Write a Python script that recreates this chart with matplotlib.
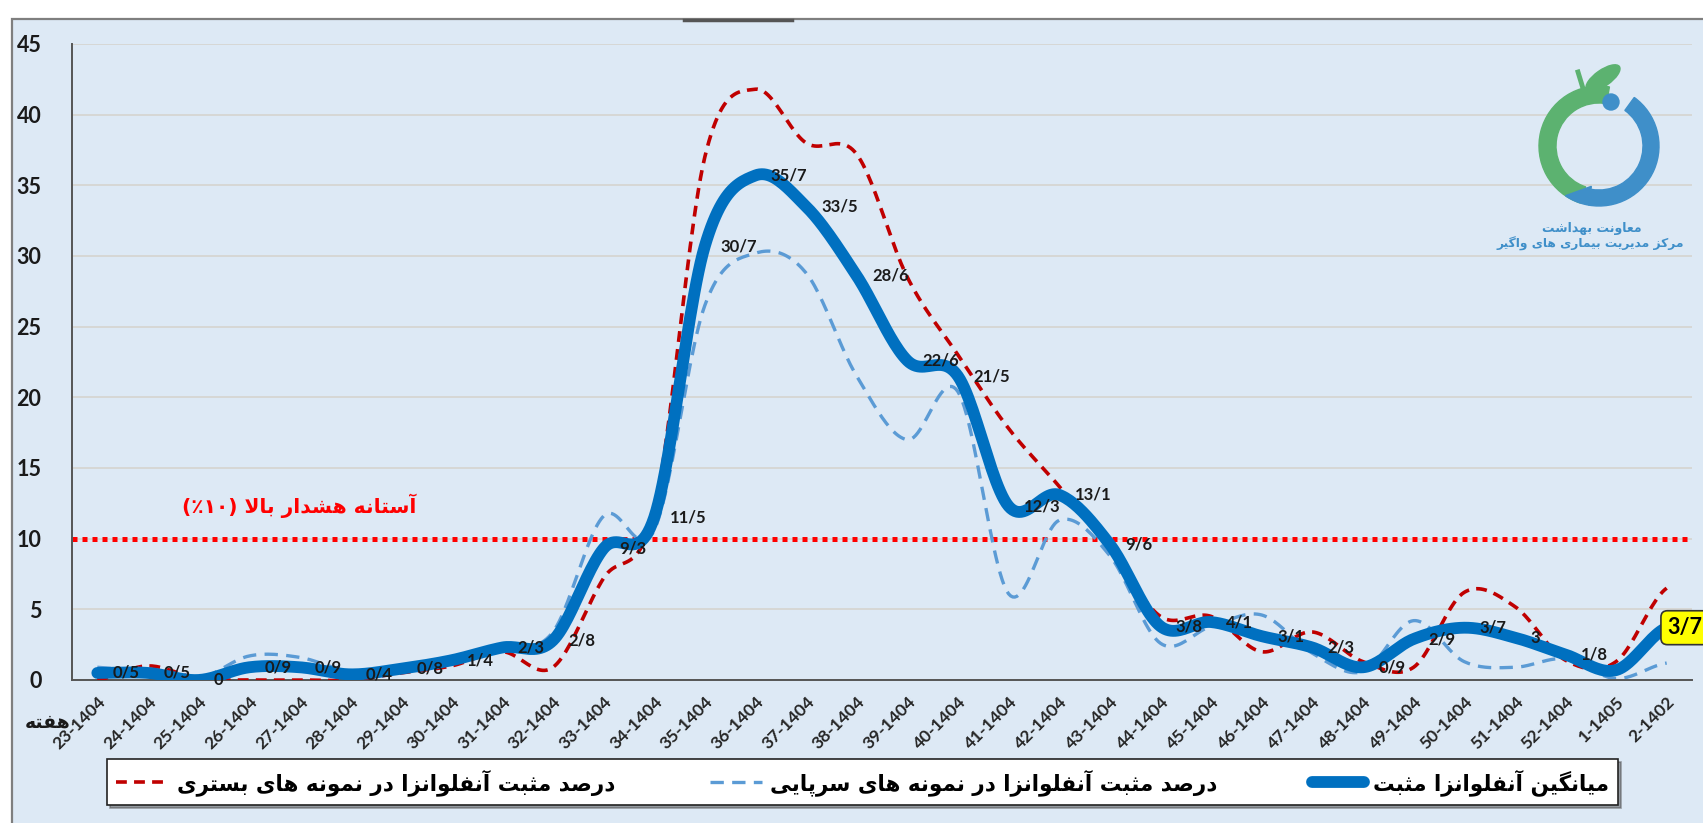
import numpy as np
import matplotlib
matplotlib.use("Agg")
import matplotlib.pyplot as plt
from matplotlib.patches import Rectangle, Wedge, Circle, Ellipse, Polygon

# week labels (x axis)
weeks = ['23-1404', '24-1404', '25-1404', '26-1404', '27-1404', '28-1404', '29-1404',
         '30-1404', '31-1404', '32-1404', '33-1404', '34-1404', '35-1404', '36-1404',
         '37-1404', '38-1404', '39-1404', '40-1404', '41-1404', '42-1404', '43-1404',
         '44-1404', '45-1404', '46-1404', '47-1404', '48-1404', '49-1404', '50-1404',
         '51-1404', '52-1404', '1-1405', '2-1402']

# average positive influenza (thick blue)
avg = [0.5, 0.5, 0, 0.9, 0.9, 0.4, 0.8, 1.4, 2.3, 2.8, 9.3, 11.5, 30.7, 35.7, 33.5, 28.6,
       22.6, 21.5, 12.3, 13.1, 9.6, 3.8, 4.1, 3.1, 2.3, 0.9, 2.9, 3.7, 3.0, 1.8, 0.7, 3.7]
# outpatient samples (light blue dashed)
outpat = [0.9, 0.5, 0.1, 1.7, 1.6, 0.6, 0.8, 1.3, 2.2, 3.4, 11.6, 10.6, 26.5, 30.2, 28.8, 21.5,
          17.0, 20.4, 6.1, 11.3, 8.8, 2.6, 3.8, 4.6, 1.9, 0.6, 4.2, 1.3, 0.9, 1.5, 0.1, 1.2]
# inpatient samples (red dashed)
inpat = [0.0, 1.0, 0.1, 0.0, 0.0, 0.0, 0.5, 1.0, 2.0, 0.9, 7.2, 12.0, 37.0, 41.8, 38.0, 37.2,
         28.5, 23.0, 17.8, 13.7, 9.4, 4.5, 4.5, 2.0, 3.4, 1.3, 0.9, 6.2, 5.2, 1.4, 1.3, 6.5]
hidden_label = [30]   # week 1-1405 has no data label in the original
threshold = 10

# ---- minimal Persian shaping (matplotlib has no complex text layout)
F = {
    '\u0622': ('\uFE81', '\uFE82', None, None),
    '\u0627': ('\uFE8D', '\uFE8E', None, None),
    '\u0628': ('\uFE8F', '\uFE90', '\uFE91', '\uFE92'),
    '\u067E': ('\uFB56', '\uFB57', '\uFB58', '\uFB59'),
    '\u062A': ('\uFE95', '\uFE96', '\uFE97', '\uFE98'),
    '\u062B': ('\uFE99', '\uFE9A', '\uFE9B', '\uFE9C'),
    '\u062F': ('\uFEA9', '\uFEAA', None, None),
    '\u0631': ('\uFEAD', '\uFEAE', None, None),
    '\u0632': ('\uFEAF', '\uFEB0', None, None),
    '\u0633': ('\uFEB1', '\uFEB2', '\uFEB3', '\uFEB4'),
    '\u0634': ('\uFEB5', '\uFEB6', '\uFEB7', '\uFEB8'),
    '\u0635': ('\uFEB9', '\uFEBA', '\uFEBB', '\uFEBC'),
    '\u0639': ('\uFEC9', '\uFECA', '\uFECB', '\uFECC'),
    '\u0641': ('\uFED1', '\uFED2', '\uFED3', '\uFED4'),
    '\u06A9': ('\uFB8E', '\uFB8F', '\uFB90', '\uFB91'),
    '\u06AF': ('\uFB92', '\uFB93', '\uFB94', '\uFB95'),
    '\u0644': ('\uFEDD', '\uFEDE', '\uFEDF', '\uFEE0'),
    '\u0645': ('\uFEE1', '\uFEE2', '\uFEE3', '\uFEE4'),
    '\u0646': ('\uFEE5', '\uFEE6', '\uFEE7', '\uFEE8'),
    '\u0647': ('\uFEE9', '\uFEEA', '\uFEEB', '\uFEEC'),
    '\u0648': ('\uFEED', '\uFEEE', None, None),
    '\u06CC': ('\uFBFC', '\uFBFD', '\uFBFE', '\uFBFF'),
}
LAM_ALEF = {'\u0627': ('\uFEFB', '\uFEFC'), '\u0622': ('\uFEF5', '\uFEF6')}


def fa(text):
    out = []
    i = 0
    n = len(text)
    while i < n:
        c = text[i]
        if c not in F:
            out.append(c)
            i += 1
            continue
        prev = text[i-1] if i > 0 else ''
        nxt = text[i+1] if i + 1 < n else ''
        jp = prev in F and F[prev][2] is not None
        if c == '\u0644' and nxt in LAM_ALEF:
            out.append(LAM_ALEF[nxt][1 if jp else 0])
            i += 2
            continue
        jn = F[c][2] is not None and nxt in F
        iso, fin, ini, med = F[c]
        if jp and jn:
            g = med
        elif jp:
            g = fin
        elif jn:
            g = ini
        else:
            g = iso
        out.append(g)
        i += 1
    return ''.join(out)[::-1]


def smooth(y, n=24):
    # excel style smoothed line (bezier through the points)
    y = np.asarray(y, float)
    p = np.concatenate([[y[0]], y, [y[-1]]])
    t = np.linspace(0, 1, n, endpoint=False)
    xs, ys = [], []
    for i in range(len(y) - 1):
        p0, p1, p2, p3 = p[i], p[i+1], p[i+2], p[i+3]
        c1 = p1 + (p2 - p0) / 6.0
        c2 = p2 - (p3 - p1) / 6.0
        b = (1-t)**3*p1 + 3*(1-t)**2*t*c1 + 3*(1-t)*t**2*c2 + t**3*p2
        xs.append(i + t)
        ys.append(b)
    xs.append([len(y) - 1])
    ys.append([y[-1]])
    return np.concatenate(xs), np.concatenate(ys)


W, H = 1703, 823
BG = '#dde9f5'
FA_FONT = 'DejaVu Sans'
NUM_FONT = 'Lato'

fig = plt.figure(figsize=(W/100, H/100), dpi=100)
fig.patch.set_facecolor('white')

# background frame
bg = fig.add_axes([0, 0, 1, 1], zorder=-10)
bg.set_xlim(0, W)
bg.set_ylim(H, 0)
bg.axis('off')
bg.add_patch(Rectangle((12, 19), W, H, facecolor=BG, edgecolor='#7f7f7f', lw=1.6))
bg.plot([684, 792], [20, 20], color='#555555', lw=2.5)

ax = fig.add_axes([72/W, 1 - 680/H, (1692 - 72)/W, (680 - 44)/H])
ax.patch.set_alpha(0)
x = np.arange(len(weeks))

xs, ys = smooth(inpat)
l_in, = ax.plot(xs, ys, color='#c00000', lw=2.6, ls=(0, (3, 2)), zorder=3)
xs, ys = smooth(outpat)
l_out, = ax.plot(xs, ys, color='#5b9bd5', lw=2.4, ls=(0, (4, 2.5)), zorder=2.5)
xs, ys = smooth(avg)
l_avg, = ax.plot(xs, ys, color='#0070c0', lw=8.5, solid_capstyle='round', zorder=4)

ax.axhline(threshold, color='#ff0000', lw=3.6, ls=(0, (1, 1)), dash_capstyle='butt', zorder=2)

# data labels
for i, v in enumerate(avg):
    if i in hidden_label:
        continue
    lab = f'{v:g}'.replace('.', '/')
    if i == len(avg) - 1:
        ax.annotate(lab, (x[i], v), xytext=(0.5, 0), textcoords='offset points',
                    ha='left', va='center', fontsize=15.5, fontweight='bold',
                    family=NUM_FONT, color='black', zorder=6, annotation_clip=False,
                    bbox=dict(boxstyle='round,pad=0.3', fc='#ffff00', ec='#333333', lw=1.2))
    else:
        ax.annotate(lab, (x[i], v), xytext=(11, 0), textcoords='offset points',
                    ha='left', va='center', fontsize=12, fontweight='bold',
                    family=NUM_FONT, color='#1a1a1a', zorder=6)

ax.set_xlim(-0.5, len(weeks) - 0.5)
ax.set_ylim(0, 45)
ax.set_yticks(range(0, 50, 5))
ax.set_xticks(x)
ax.set_xticklabels(weeks, rotation=45, ha='right', rotation_mode='anchor',
                   fontsize=12.5, fontweight='bold', family=NUM_FONT, color='#262626')
for t in ax.get_yticklabels():
    t.set_fontsize(15.5)
    t.set_fontweight('bold')
    t.set_family(NUM_FONT)
    t.set_color('#1a1a1a')
ax.tick_params(axis='x', length=0, pad=10)
ax.tick_params(axis='y', length=0, pad=22)
ax.grid(axis='y', color='#d6d6d2', lw=1.3)
ax.set_axisbelow(True)
for s in ['top', 'right']:
    ax.spines[s].set_visible(False)
for s in ['left', 'bottom']:
    ax.spines[s].set_color('#555555')
    ax.spines[s].set_linewidth(1.4)

# threshold label
ax.text(299/W, 1 - 506/H, '(\u066A\u06F1\u06F0) ' + fa('آستانه هشدار بالا'),
        transform=fig.transFigure, ha='center', va='center', color='#ff0000',
        fontsize=14.5, fontweight='bold', family=FA_FONT)
# x axis title
fig.text(48/W, 1 - 722/H, fa('هفته'), ha='center', va='center', fontsize=13.5,
         fontweight='bold', family=FA_FONT, color='#1a1a1a')

# legend
leg = fig.legend([l_in, l_out, l_avg],
                 [fa('درصد مثبت آنفلوانزا در نمونه های بستری'),
                  fa('درصد مثبت آنفلوانزا در نمونه های سرپایی'),
                  fa('میانگین آنفلوانزا مثبت')],
                 loc='lower left', bbox_to_anchor=(96/W, 1 - 816/H, 1533/W, 46/H),
                 mode='expand', ncol=3, frameon=True, fancybox=False, shadow=True,
                 edgecolor='#222222', facecolor='white', framealpha=1,
                 handlelength=2.4, handletextpad=0.4, borderpad=0.45,
                 prop=dict(family=FA_FONT, weight='bold', size=15.5))
leg.get_frame().set_linewidth(1.2)

# logo (top right)
ov = fig.add_axes([0, 0, 1, 1], zorder=10)
ov.set_xlim(0, W)
ov.set_ylim(0, H)
ov.axis('off')
cx, cy = 1599, H - 146
green = '#5cb270'
blue = '#3f8fc9'
ov.add_patch(Wedge((cx, cy), 60, 80, 252, width=17, color=green))
ov.add_patch(Wedge((cx, cy), 60, -100, 54, width=16, color=blue))
ang = np.radians(np.linspace(-100, -124, 12))
tail = np.vstack([np.c_[cx + 60*np.cos(ang), cy + 60*np.sin(ang)],
                  [[cx + 44*np.cos(np.radians(-100)), cy + 44*np.sin(np.radians(-100)) + 3]]])
ov.add_patch(Polygon(tail, closed=True, color=blue))
ov.add_patch(Circle((1611, H - 102), 8, color=blue))
ov.add_patch(Ellipse((1603, H - 78), 40, 16, angle=35, color=green))
ov.plot([1578, 1585], [H - 72, H - 95], color=green, lw=3.5)
ov.text(1592, H - 228, fa('معاونت بهداشت'), ha='center', va='center', fontsize=9,
        fontweight='bold', family=FA_FONT, color=blue)
ov.text(1590, H - 244, fa('مرکز مدیریت بیماری های واگیر'), ha='center', va='center',
        fontsize=8.8, fontweight='bold', family=FA_FONT, color=blue)

fig.savefig('out.png', dpi=100)
